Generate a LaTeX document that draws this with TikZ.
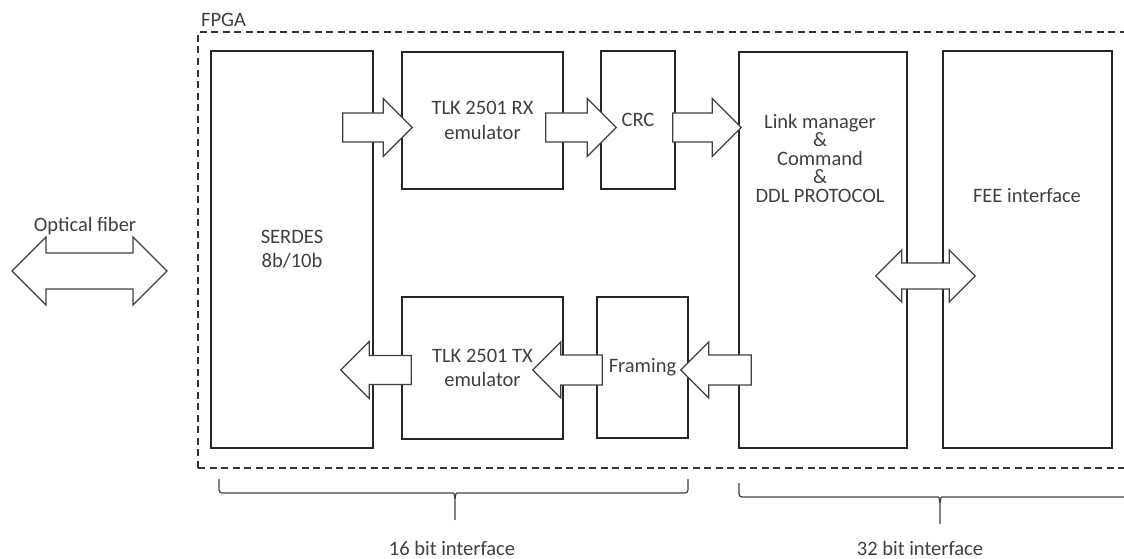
\documentclass[tikz,border=0pt]{standalone}
\usepackage{fontspec}
\setmainfont{Carlito}
\usetikzlibrary{positioning,calc}
\newcommand{\dfont}{\fontsize{20.5}{24.5}\selectfont}
\newcommand{\tfont}{\fontsize{20.5}{18.5}\selectfont}
\tikzset{blk/.style={draw=black!85, line width=1.5pt, inner sep=0pt, align=center, text=black!75, font=\dfont}}
\tikzset{txt/.style={align=center, text=black!75, font=\dfont, inner sep=0pt}}
\tikzset{fpgabox/.style={draw=black!80, line width=1.4pt, dash pattern=on 7pt off 4.5pt}}
\tikzset{brc/.style={draw=black!75, line width=1.2pt, rounded corners=3pt}}
\tikzset{sarr/.style 2 args={draw=black!75, fill=white, line width=1.3pt,
	to path={let \p1=(\tikztostart), \p2=(\tikztotarget), \n1={sign(\x2-\x1)*#2} in
		(\x1,\y1+#1) -- (\x2-\n1,\y1+#1) -- (\x2-\n1,\y1+#2) -- (\x2,\y1) -- (\x2-\n1,\y1-#2) -- (\x2-\n1,\y1-#1) -- (\x1,\y1-#1) -- cycle}}}
\tikzset{darr/.style 2 args={draw=black!75, fill=white, line width=1.3pt,
	to path={let \p1=(\tikztostart), \p2=(\tikztotarget), \n1={sign(\x2-\x1)*#2} in
		(\x1,\y1) -- (\x1+\n1,\y1+#2) -- (\x1+\n1,\y1+#1) -- (\x2-\n1,\y1+#1) -- (\x2-\n1,\y1+#2) -- (\x2,\y1)
		-- (\x2-\n1,\y1-#2) -- (\x2-\n1,\y1-#1) -- (\x1+\n1,\y1-#1) -- (\x1+\n1,\y1-#2) -- cycle}}}

\begin{document}
\begin{tikzpicture}[x=1pt, y=-1pt]
	\useasboundingbox (0,0) rectangle (1124,559);
	% FPGA frame
	\node[fpgabox, minimum width=942pt, minimum height=436pt] (fpga) at (669,250) {};
	\node[txt, anchor=base west] (fpgatxt) at (201,27) {FPGA};
	% blocks
	\node[blk, minimum width=162pt, minimum height=397pt] (serdes) at (292,249.5) {SERDES\\8b/10b};
	\node[blk, minimum width=161pt, minimum height=137pt] (rx) at (482.5,120.5) {TLK 2501 RX\\emulator};
	\node[blk, minimum width=74pt, minimum height=138pt] (crc) at (638,120) {CRC};
	\node[blk, minimum width=168pt, minimum height=396pt] (link) at (823,250) {};
	\node[blk, minimum width=169pt, minimum height=397pt] (fee) at (1027.5,249.5) {};
	\node[blk, minimum width=161pt, minimum height=142pt] (tx) at (482.5,368) {TLK 2501 TX\\emulator};
	\node[blk, minimum width=91pt, minimum height=141pt] (framing) at (642.5,367.5) {Framing};
	\node[txt, font=\tfont] (linktxt) at (820,158) {Link manager\\\&\\Command\\\&\\DDL PROTOCOL};
	\node[txt] (feetxt) at (1027,196) {FEE interface};
	\node[txt] (fibtxt) at (85,226) {Optical fiber};
	% data paths
	\coordinate (rxrow) at (0,127.5);
	\coordinate (txrow) at (0,370);
	\coordinate (fibl) at (12,271);
	\coordinate (fibr) at (167,271);
	\draw[darr={18}{34}] (fibl) to (fibr);
	\draw[sarr={14.5}{29}] ($(serdes.east|-rxrow)+(-31,0)$) to ($(rx.west|-rxrow)+(11,0)$);
	\draw[sarr={14.5}{29}] ($(rx.east|-rxrow)+(-18,0)$) to ($(crc.west|-rxrow)+(16,0)$);
	\draw[sarr={14.5}{29}] ($(crc.east|-rxrow)+(-3,0)$) to ($(link.west|-rxrow)+(3,0)$);
	\draw[sarr={15}{28}] ($(link.west|-txrow)+(13,0)$) to ($(framing.east|-txrow)+(-8,0)$);
	\draw[sarr={15}{28}] ($(framing.west|-txrow)+(6,0)$) to ($(tx.east|-txrow)+(-31,0)$);
	\draw[sarr={14.5}{28.5}] ($(tx.west|-txrow)+(10,0)$) to ($(serdes.east|-txrow)+(-33,0)$);
	\draw[darr={13}{26}] ($(link.east)+(-32,26)$) to ($(fee.west)+(33,26)$);
	% braces
	\draw[brc] (219,479) |- (450,493) .. controls (454,493) .. (455,499) -- (455,520);
	\draw[brc] (455,499) .. controls (456,493) .. (460,493) -| (688,479);
	\draw[brc] (739,483) |- (935,497) .. controls (939,497) .. (940,503) -- (940,524);
	\draw[brc] (940,503) .. controls (941,497) .. (945,497) -| (1141,483);
	\node[txt] (if16) at (452,548) {16 bit interface};
	\node[txt] (if32) at (920,548) {32 bit interface};
\end{tikzpicture}
\end{document}
